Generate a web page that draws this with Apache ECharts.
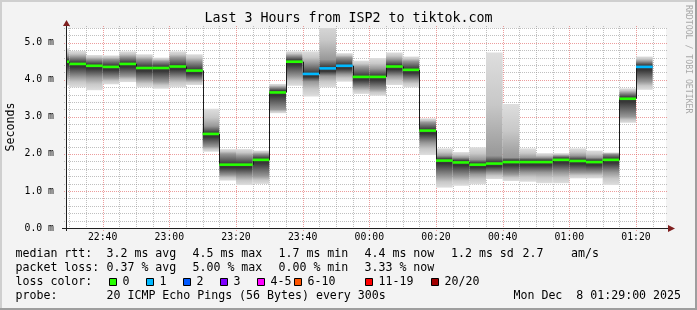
<!DOCTYPE html>
<html><head><meta charset="utf-8">
<script src="https://cdn.jsdelivr.net/npm/echarts@6/dist/echarts.min.js"></script>
<style>html,body{margin:0;padding:0;background:#f3f3f3}#c{width:697px;height:310px}</style>
</head><body><div id="c"></div>
<script>
// ---- data (5-minute bins, start times) ----
const binStart = ['22:25','22:30','22:35','22:40','22:45','22:50','22:55','23:00','23:05','23:10','23:15','23:20','23:25','23:30','23:35','23:40','23:45','23:50','23:55','00:00','00:05','00:10','00:15','00:20','00:25','00:30','00:35','00:40','00:45','00:50','00:55','01:00','01:05','01:10','01:15','01:20','01:25'];
// median RTT in ms
const medianRtt = [4.49,4.43,4.38,4.35,4.43,4.32,4.32,4.36,4.25,2.54,1.71,1.71,1.84,3.66,4.49,4.16,4.31,4.38,4.08,4.08,4.36,4.27,2.63,1.82,1.77,1.71,1.74,1.78,1.78,1.78,1.84,1.81,1.78,1.84,3.49,4.35,null];
// lost pings out of 20
const lostPings = [0,0,0,0,0,0,0,0,0,0,0,0,0,0,0,1,1,1,0,0,0,0,0,0,0,0,0,0,0,0,0,0,0,0,0,1,null];
// smoke: fastest / slowest ping, and inner (darker) range
const pingMin = [3.85,3.80,3.72,3.88,3.94,3.80,3.76,3.80,3.86,2.06,1.28,1.16,1.19,3.10,3.84,3.55,3.80,3.95,3.62,3.57,3.86,3.80,1.97,1.09,1.14,1.18,1.32,1.27,1.25,1.21,1.21,1.34,1.34,1.16,2.84,3.73,null];
const pingMax = [4.85,4.78,4.67,4.66,4.77,4.69,4.60,4.77,4.69,3.22,2.13,2.13,2.09,3.89,4.77,4.77,5.60,4.72,4.52,4.59,4.74,4.63,2.96,2.15,2.05,2.18,4.74,3.35,2.15,2.02,2.02,2.15,2.09,2.04,3.77,4.63,null];
const pingLowQ = [4.10,4.08,4.05,4.05,4.10,4.00,3.95,4.05,4.00,2.20,1.43,1.40,1.40,3.20,4.10,3.95,4.10,4.15,3.80,3.75,4.10,4.00,2.30,1.40,1.40,1.45,1.50,1.45,1.50,1.50,1.50,1.50,1.50,1.50,3.00,3.95,null];
const pingHighQ = [4.65,4.62,4.55,4.55,4.62,4.55,4.50,4.60,4.50,2.75,2.00,1.95,2.00,3.80,4.65,4.45,4.55,4.60,4.35,4.30,4.55,4.50,2.85,1.95,1.90,1.85,1.95,1.90,1.90,1.90,1.95,1.95,1.90,2.00,3.65,4.50,null];
// axes
const timeStart = '22:29', timeEnd = '01:29';
const timeLabels = ['22:40','23:00','23:20','23:40','00:00','00:20','00:40','01:00','01:20'];
const yMajor = [1,2,3,4,5];
const yMinor = [0.2,0.4,0.6,0.8,1.2,1.4,1.6,1.8,2.2,2.4,2.6,2.8,3.2,3.4,3.6,3.8,4.2,4.4,4.6,4.8,5.2,5.4];
const lossLabels = ['0','1','2','3','4-5','6-10','11-19','20/20'];
const lossColors = ['#26ff00','#00b8ff','#0059ff','#7e00ff','#ff00ff','#ff5500','#ff0000','#a10000'];

const BIN = 5;
function tm(s){const [h,m]=s.split(':').map(Number);let v=h*60+m;if(h>=12)v-=1440;return v;}
const FONT = 'DejaVu Sans Mono';
const GRIDC = 'rgba(143,143,143,0.56)', MGRIDC = 'rgba(222,80,80,0.56)';

const binT = binStart.map(tm);
const smokeData = [], medData = [];
binT.forEach((t,i)=>{
  if (medianRtt[i]==null) return;
  smokeData.push([t, pingMin[i], pingMax[i], pingLowQ[i], pingHighQ[i], medianRtt[i]]);
  medData.push([t, medianRtt[i], lostPings[i], i>0 && medianRtt[i-1]!=null ? medianRtt[i-1] : NaN]);
});
const xMin = tm(timeStart), xMax = tm(timeEnd);
const majorT = timeLabels.map(tm);
const minorT = binT.filter(t => t > xMin && t < xMax && majorT.indexOf(t) < 0);

function renderGrid(params, api){
  const cs = params.coordSys;
  const top = cs.y, bot = cs.y + cs.height, left = cs.x, right = cs.x + cs.width;
  const px = v => Math.round(v) + 0.5;
  const ch = [];
  const L = (x1,y1,x2,y2,c)=>ch.push({type:'line',shape:{x1,y1,x2,y2},style:{stroke:c,lineWidth:1,lineDash:[1,1]}});
  minorT.forEach(t=>{const x=px(api.coord([t,0])[0]);L(x,top-2,x,bot+2,GRIDC);});
  yMinor.forEach(v=>{const y=px(api.coord([xMin,v])[1]);L(left-2,y,right+2,y,GRIDC);});
  majorT.forEach(t=>{const x=px(api.coord([t,0])[0]);L(x,top-2,x,bot+3,MGRIDC);});
  yMajor.forEach(v=>{const y=px(api.coord([xMin,v])[1]);L(left-2,y,right+2,y,MGRIDC);});
  majorT.forEach((t,i)=>{const x=api.coord([t,0])[0];
    ch.push({type:'text',x:x,y:bot+9.5,style:{text:timeLabels[i],fontFamily:FONT,fontSize:9.8,fill:'#000',align:'center',verticalAlign:'middle'}});});
  return {type:'group',children:ch};
}

function renderSmoke(params, api){
  const t=api.value(0), mn=api.value(1), mx=api.value(2), lo=api.value(3), hi=api.value(4), md=api.value(5);
  const p0=api.coord([t,mx]), p1=api.coord([t+BIN,mn]);
  const yLo=api.coord([t,lo])[1], yHi=api.coord([t,hi])[1], yMd=api.coord([t,md])[1];
  const cs=params.coordSys;
  const rect=echarts.graphic.clipRectByRect({x:p0[0],y:p0[1],width:p1[0]-p0[0],height:p1[1]-p0[1]},{x:cs.x,y:cs.y,width:cs.width,height:cs.height});
  if(!rect) return;
  const H=p1[1]-p0[1];
  const off=y=>Math.min(1,Math.max(0,(y-p0[1])/H));
  const grad=new echarts.graphic.LinearGradient(0,p0[1],0,p1[1],[
    {offset:0,color:'#dedede'},
    {offset:off((p0[1]+yHi)/2),color:'#c8c8c8'},
    {offset:off(yHi),color:'#989898'},
    {offset:off(yMd-2),color:'#464646'},
    {offset:off(yMd+3),color:'#363636'},
    {offset:off(yLo),color:'#989898'},
    {offset:off((p1[1]+yLo)/2),color:'#c8c8c8'},
    {offset:1,color:'#dedede'}],true);
  return {type:'rect',shape:rect,style:{fill:grad}};
}

function renderMedian(params, api){
  const t=api.value(0), md=api.value(1), loss=api.value(2), prev=api.value(3);
  const cs=params.coordSys;
  const p=api.coord([t,md]), pe=api.coord([t+BIN,md]);
  const x1=Math.max(p[0],cs.x), x2=Math.min(pe[0],cs.x+cs.width);
  const ch=[];
  if(!isNaN(prev) && p[0]>=cs.x){
    const py=api.coord([t,prev])[1];
    const x=Math.round(p[0])+0.5;
    ch.push({type:'line',shape:{x1:x,y1:py,x2:x,y2:p[1]},style:{stroke:'#1a1a1a',lineWidth:1}});
  }
  let ci = loss<=3 ? loss : loss<=5 ? 4 : loss<=10 ? 5 : loss<=19 ? 6 : 7;
  ch.push({type:'line',shape:{x1:x1,y1:p[1],x2:x2,y2:p[1]},style:{stroke:lossColors[ci],lineWidth:2.6}});
  return {type:'group',children:ch};
}

const chart = echarts.init(document.getElementById('c'), null, {renderer:'canvas'});
const T = (text,x,y,opt={})=>Object.assign({type:'text',x,y,style:Object.assign({text,fontFamily:FONT,fontSize:11.6,fill:'#000',verticalAlign:'middle'},opt.style||{})},opt.el||{});
const g = [];
g.push({type:'rect',shape:{x:0,y:0,width:697,height:2},style:{fill:'#cfcfcf'}});
g.push({type:'rect',shape:{x:0,y:0,width:2,height:310},style:{fill:'#cfcfcf'}});
g.push({type:'rect',shape:{x:0,y:308,width:697,height:2},style:{fill:'#9e9e9e'}});
g.push({type:'rect',shape:{x:695,y:0,width:2,height:310},style:{fill:'#9e9e9e'}});
g.push(T('Last 3 Hours from ISP2 to tiktok.com',348.5,19,{style:{fontSize:13.3,align:'center'}}));
g.push(T('Seconds',11,127,{style:{align:'center'},el:{rotation:Math.PI/2}}));
g.push(T('RRDTOOL / TOBI OETIKER',688.5,5,{style:{fontSize:8.2,fill:'#a8a8a8',align:'left'},el:{rotation:-Math.PI/2}}));
// axes + arrows
g.push({type:'line',z:50,shape:{x1:62,y1:228.5,x2:670,y2:228.5},style:{stroke:'#1f1f1f',lineWidth:1}});
g.push({type:'line',z:50,shape:{x1:66.5,y1:231,x2:66.5,y2:24},style:{stroke:'#1f1f1f',lineWidth:1}});
g.push({type:'polygon',z:51,shape:{points:[[668,225],[668,232],[675,228.5]]},style:{fill:'#7f1f1f'}});
g.push({type:'polygon',z:51,shape:{points:[[63,26],[70,26],[66.5,20]]},style:{fill:'#7f1f1f'}});
// legend
const l1=254.3,l2=268.3,l3=282.3,l4=296.3;
[['median rtt:',15.5],['3.2 ms avg',106.5],['4.5 ms max',192.5],['1.7 ms min',278.5],['4.4 ms now',364.5],['1.2 ms sd',451],['2.7',522.5],['am/s',571]].forEach(a=>g.push(T(a[0],a[1],l1)));
[['packet loss:',15.5],['0.37 % avg',106.5],['5.00 % max',192.5],['0.00 % min',278.5],['3.33 % now',364.5]].forEach(a=>g.push(T(a[0],a[1],l2)));
g.push(T('loss color:',15.5,l3));
const boxX=[109,146,183,220,257,294,365,431];
lossLabels.forEach((s,i)=>{
  g.push({type:'rect',shape:{x:boxX[i]+0.5,y:278.5,width:7,height:7},style:{fill:lossColors[i],stroke:'#000',lineWidth:1}});
  g.push(T(s,boxX[i]+13.5,l3));
});
g.push(T('probe:',15.5,l4));
g.push(T('20 ICMP Echo Pings (56 Bytes) every 300s',106.5,l4));
g.push(T('Mon Dec  8 01:29:00 2025',681,l4,{style:{align:'right'}}));

chart.setOption({
  animation:false,
  backgroundColor:'#f3f3f3',
  grid:{left:66,right:31,top:28,bottom:82,show:true,backgroundColor:'#ffffff',borderWidth:0},
  xAxis:{type:'value',min:xMin,max:xMax,axisLine:{show:false},axisTick:{show:false},axisLabel:{show:false},splitLine:{show:false}},
  yAxis:{type:'value',min:0,max:5.4,interval:1,axisLine:{show:false},axisTick:{show:false},splitLine:{show:false},
    axisLabel:{margin:12,fontFamily:FONT,fontSize:9.8,color:'#000',showMaxLabel:false,
      formatter:v=>Math.abs(v-Math.round(v))<1e-6?v.toFixed(1)+' m':''}},
  graphic:{elements:g},
  series:[
    {type:'custom',z:1,silent:true,renderItem:renderGrid,data:[[xMin,0]]},
    {type:'custom',z:2,silent:true,renderItem:renderSmoke,data:smokeData},
    {type:'custom',z:3,silent:true,renderItem:renderMedian,data:medData}
  ]
});
</script></body></html>
